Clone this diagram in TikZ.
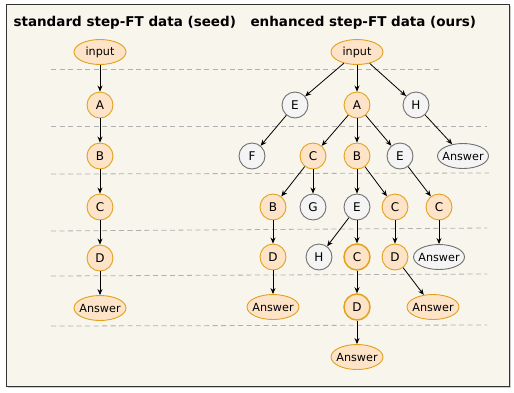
\documentclass[tikz,border=0pt]{standalone}
\usepackage{fontspec}
\setmainfont{DejaVu Sans}
\usetikzlibrary{shadows,arrows.meta,shapes.geometric}
\definecolor{bgc}{HTML}{F8F5EC}
\definecolor{ofill}{HTML}{FDE3C8}
\definecolor{odraw}{HTML}{E2A21E}
\definecolor{gfill}{HTML}{F4F4F4}
\definecolor{gdraw}{HTML}{707070}
\definecolor{dashc}{HTML}{B0B0B0}
\newcommand{\tightbox}[1]{\makebox[30pt]{#1}}
\tikzset{
  nfont/.style={font=\fontsize{12}{14}\selectfont},
  efont/.style={font=\fontsize{11.2}{13}\selectfont},
  onode/.style={circle, draw=odraw, fill=ofill, line width=0.9pt, minimum size=26pt, inner sep=0pt, nfont},
  gnode/.style={circle, draw=gdraw, fill=gfill, line width=0.9pt, minimum size=26pt, inner sep=0pt, nfont},
  oell/.style={ellipse, draw=odraw, fill=ofill, line width=0.9pt, minimum width=52pt, minimum height=25pt, inner sep=0pt, efont},
  gell/.style={ellipse, draw=gdraw, fill=gfill, line width=0.9pt, minimum width=51pt, minimum height=25pt, inner sep=0pt, efont},
  thick orange/.style={line width=1.5pt},
  edge/.style={-{Stealth[length=6pt,width=5pt]}, line width=0.8pt, black},
  sep/.style={dashc, line width=0.8pt, dash pattern=on 5pt off 3.5pt},
  title/.style={font=\fontsize{13.5}{16}\selectfont\bfseries, anchor=west}
}
\begin{document}
\begin{tikzpicture}[x=1pt,y=-1pt]
\useasboundingbox (0,0) rectangle (514,392);
\draw[fill=bgc, draw=black!80, line width=1pt, drop shadow={shadow xshift=2pt, shadow yshift=-2pt, opacity=0.4}] (6,4) rectangle (509,386);

\node[title] (t1) at (10,23) {standard step-FT data (seed)};
\node[title] (t2) at (247,23) {enhanced step-FT data (ours)};

% separators
\draw[sep] (51,69) -- (442,69);
\draw[sep] (51,126) -- (487,126);
\draw[sep] (51,174) -- (489,173);
\draw[sep] (51,231) -- (487,228);
\draw[sep] (51,276) -- (487,274);
\draw[sep] (51,326) -- (487,325);

% left chain
\node[oell] (li) at (100,52) {\tightbox{input}};
\node[onode] (la) at (100,105) {A};
\node[onode] (lb) at (100,156) {B};
\node[onode] (lc) at (100,207) {C};
\node[onode] (ld) at (100,258) {D};
\node[oell] (lans) at (100,308) {\tightbox{Answer}};
\draw[edge] (li) -- (la);
\draw[edge] (la) -- (lb);
\draw[edge] (lb) -- (lc);
\draw[edge] (lc) -- (ld);
\draw[edge] (ld) -- (lans);

% right tree
\node[oell] (ri) at (357,52) {\tightbox{input}};
\node[gnode] (r1e) at (295,105) {E};
\node[onode] (r1a) at (357,105) {A};
\node[gnode] (r1h) at (416,105) {H};

\node[gnode] (r2f) at (252,156) {F};
\node[onode] (r2c) at (313,156) {C};
\node[onode] (r2b) at (357,156) {B};
\node[gnode] (r2e) at (400,156) {E};
\node[gell] (r2ans) at (463,156) {\tightbox{Answer}};

\node[onode] (r3b) at (273,207) {B};
\node[gnode] (r3g) at (313,207) {G};
\node[gnode] (r3e) at (357,207) {E};
\node[onode] (r3c) at (395,207) {C};
\node[onode] (r3c2) at (439,207) {C};

\node[onode] (r4d) at (273,257) {D};
\node[gnode] (r4h) at (319,257) {H};
\node[onode, thick orange] (r4c) at (357,257) {C};
\node[onode] (r4d2) at (395,257) {D};
\node[gell] (r4ans) at (439,257) {\tightbox{Answer}};

\node[oell] (r5ans) at (273,307) {\tightbox{Answer}};
\node[onode, thick orange] (r5d) at (357,307) {D};
\node[oell] (r5ans2) at (433,307) {\tightbox{Answer}};

\node[oell] (r6ans) at (357,357) {\tightbox{Answer}};

\draw[edge] (ri) -- (r1e);
\draw[edge] (ri) -- (r1a);
\draw[edge] (ri) -- (r1h);
\draw[edge] (r1e) -- (r2f);
\draw[edge] (r1a) -- (r2c);
\draw[edge] (r1a) -- (r2b);
\draw[edge] (r1a) -- (r2e);
\draw[edge] (r1h) -- (r2ans);
\draw[edge] (r2c) -- (r3b);
\draw[edge] (r2c) -- (r3g);
\draw[edge] (r2b) -- (r3e);
\draw[edge] (r2b) -- (r3c);
\draw[edge] (r2e) -- (r3c2);
\draw[edge] (r3b) -- (r4d);
\draw[edge] (r3e) -- (r4h);
\draw[edge] (r3e) -- (r4c);
\draw[edge] (r3c) -- (r4d2);
\draw[edge] (r3c2) -- (r4ans);
\draw[edge] (r4d) -- (r5ans);
\draw[edge] (r4c) -- (r5d);
\draw[edge] (r4d2) -- (r5ans2);
\draw[edge] (r5d) -- (r6ans);
\end{tikzpicture}
\end{document}
